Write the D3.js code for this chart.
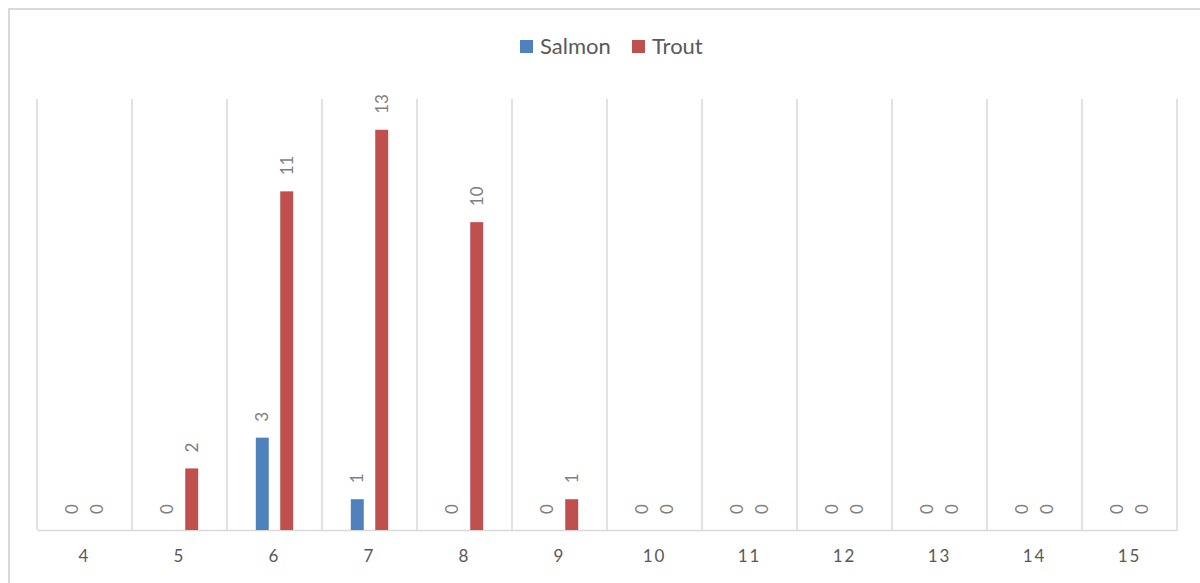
<!DOCTYPE html>
<html>
<head>
  <title>Salmon and Trout</title>
  <style>
    body { margin: 0; background: #fff; }
    text { font-family: Lato, "Open Sans", sans-serif; }
  </style>
</head>
<body>
  <script src="https://cdn.jsdelivr.net/npm/d3@7/dist/d3.min.js"></script>
  <script>
    // chart values
    var categories = ["4", "5", "6", "7", "8", "9", "10", "11", "12", "13", "14", "15"];
    var seriesNames = ["Salmon", "Trout"];
    var salmon = [0, 0, 3, 1, 0, 0, 0, 0, 0, 0, 0, 0];
    var trout = [0, 2, 11, 13, 10, 1, 0, 0, 0, 0, 0, 0];
    var colors = ["#4f81bd", "#c0504d"];

    var w = 1200, h = 583;
    var plotLeft = 37, plotRight = 1177, plotTop = 99, plotBottom = 530;

    var data = categories.map(function(c, i) {
      return { cat: c, values: [salmon[i], trout[i]] };
    });

    var svg = d3.select("body").append("svg")
      .attr("width", w)
      .attr("height", h);

    // chart border (runs off the right and bottom edges)
    svg.append("rect")
      .attr("x", 9).attr("y", 9)
      .attr("width", 1220).attr("height", 620)
      .attr("fill", "none")
      .attr("stroke", "#d9d9d9")
      .attr("stroke-width", 2);

    var x0 = d3.scaleBand()
      .domain(categories)
      .range([plotLeft, plotRight])
      .padding(0);

    var x1 = d3.scaleBand()
      .domain(seriesNames)
      .range([0, x0.bandwidth()])
      .paddingInner(0.47)
      .paddingOuter(1.18);

    var y = d3.scaleLinear()
      .domain([0, 14])
      .range([plotBottom, plotTop]);

    // vertical gridlines between categories
    var gridX = categories.map(function(c) { return x0(c); }).concat([plotRight]);
    svg.append("g").selectAll("line")
      .data(gridX)
      .enter().append("line")
      .attr("x1", function(d) { return d; })
      .attr("x2", function(d) { return d; })
      .attr("y1", plotTop)
      .attr("y2", plotBottom)
      .attr("stroke", "#d9d9d9")
      .attr("stroke-width", 1.5);

    // category axis
    var xAxis = d3.axisBottom(x0).tickSize(0).tickPadding(20);
    var gx = svg.append("g")
      .attr("transform", "translate(0," + plotBottom + ")")
      .call(xAxis);
    gx.select(".domain").attr("stroke", "#d9d9d9").attr("stroke-width", 1.5);
    gx.selectAll("text")
      .style("font-family", "Lato, 'Open Sans', sans-serif")
      .style("font-size", "17px")
      .style("letter-spacing", "2px")
      .attr("fill", "#595959");

    // bars
    var groups = svg.append("g").selectAll("g")
      .data(data)
      .enter().append("g")
      .attr("transform", function(d) { return "translate(" + x0(d.cat) + ",0)"; });

    groups.selectAll("rect")
      .data(function(d) { return d.values.map(function(v, i) { return { s: seriesNames[i], v: v, i: i }; }); })
      .enter().append("rect")
      .attr("x", function(d) { return x1(d.s); })
      .attr("y", function(d) { return y(d.v); })
      .attr("width", x1.bandwidth())
      .attr("height", function(d) { return plotBottom - y(d.v); })
      .attr("fill", function(d) { return colors[d.i]; });

    // data labels, rotated
    groups.selectAll("text.lbl")
      .data(function(d) { return d.values.map(function(v, i) { return { s: seriesNames[i], v: v }; }); })
      .enter().append("text")
      .attr("class", "lbl")
      .attr("transform", function(d) {
        return "translate(" + (x1(d.s) + x1.bandwidth() / 2) + "," + (y(d.v) - 16) + ") rotate(-90)";
      })
      .attr("dy", "0.35em")
      .attr("text-anchor", "start")
      .style("font-size", "17px")
      .attr("fill", "#7f7f7f")
      .text(function(d) { return d.v; });

    // legend
    var legend = svg.append("g");
    var lx = [520, 632];
    seriesNames.forEach(function(s, i) {
      legend.append("rect")
        .attr("x", lx[i]).attr("y", 40)
        .attr("width", 13).attr("height", 13)
        .attr("fill", colors[i]);
      legend.append("text")
        .attr("x", lx[i] + 20)
        .attr("y", 54)
        .style("font-size", "22px")
        .attr("fill", "#595959")
        .text(s);
    });
  </script>
</body>
</html>
